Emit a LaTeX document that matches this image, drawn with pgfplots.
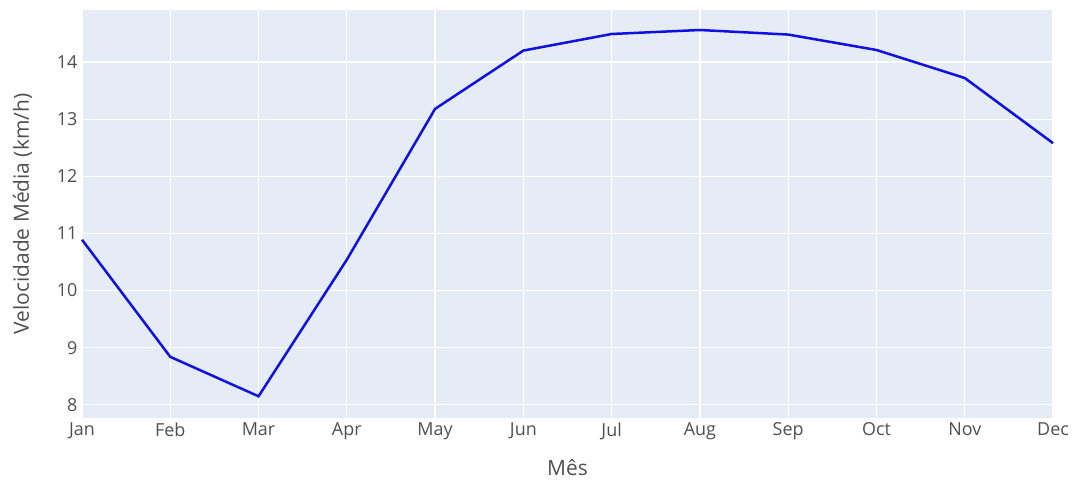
\documentclass[border=0pt]{standalone}
\usepackage{fontspec}
\setmainfont{Open Sans}
\usepackage{pgfplots}
\pgfplotsset{compat=1.18}
\definecolor{plotbg}{HTML}{E5ECF6}
\definecolor{txt}{HTML}{505050}
\definecolor{line}{HTML}{1010E0}
\begin{document}
\begin{tikzpicture}[x=1bp,y=1bp]
\begin{axis}[
  scale only axis,
  width=971bp, height=408bp,
  xmin=0, xmax=11,
  ymin=7.77, ymax=14.91,
  axis background/.style={fill=plotbg},
  axis line style={draw=none},
  grid=major,
  major grid style={white, line width=1.2bp},
  major tick length=0pt,
  xtick={0,...,11},
  xticklabels={Jan,Feb,Mar,Apr,May,Jun,Jul,Aug,Sep,Oct,Nov,Dec},
  ytick={8,...,14},
  /pgf/number format/assume math mode=true,
  tick label style={font=\fontsize{18}{20}\selectfont, text=txt},
  xticklabel style={yshift=-1bp},
  yticklabel style={xshift=-1bp},
  xlabel={Mês},
  ylabel={Velocidade Média (km/h)},
  label style={font=\fontsize{21}{24}\selectfont, text=txt},
  xlabel style={yshift=-13bp},
  ylabel style={yshift=18bp},
  clip=false,
]
\addplot[color=line, line width=2.5bp] coordinates {
  (0, 10.89)
  (1, 8.84)
  (2, 8.15)
  (3, 10.54)
  (4, 13.18)
  (5, 14.20)
  (6, 14.49)
  (7, 14.56)
  (8, 14.48)
  (9, 14.21)
  (10, 13.72)
  (11, 12.58)
};
\end{axis}
\useasboundingbox (-82,-62) rectangle (994,418);
\end{tikzpicture}
\end{document}
